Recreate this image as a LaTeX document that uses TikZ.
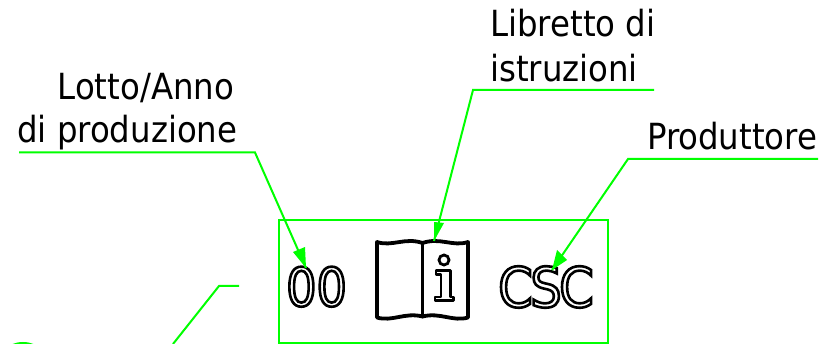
\documentclass[tikz,border=0pt]{standalone}
\usepackage{fontspec}
\setmainfont{DejaVu Sans Condensed}
\definecolor{leader}{RGB}{0,255,0}
\newcommand{\outlinetext}[1]{\special{pdf:code 1 Tr 2.6 w}#1\special{pdf:code 0 Tr 0 w}}
\tikzset{
  leaderline/.style={draw=leader,line width=2pt,line join=miter},
  label/.style={inner sep=0pt,font=\fontsize{36}{40}\selectfont,text=black,anchor=base west},
  bigmark/.style={inner sep=0pt,font=\fontsize{53}{54}\selectfont,anchor=base west},
  cscmark/.style={inner sep=0pt,font=\fontsize{55}{56}\selectfont,anchor=base west},
  bookline/.style={draw=black,line width=3.8pt,line join=round,line cap=round},
  thinline/.style={draw=black,line width=2.8pt,line join=round},
}
\begin{document}
\begin{tikzpicture}[x=1pt,y=-1pt]
\useasboundingbox (0,0) rectangle (821,344);
\clip (0,0) rectangle (821,344);
% frame
\node[draw=leader,line width=2pt,minimum width=329pt,minimum height=123pt,inner sep=0pt,anchor=north west] (frame) at (278,219) {};
% labels
\node[label] (lotto) at (57.5,99.5) {Lotto/Anno};
\node[label] (dipro) at (17,143) {di produzione};
\node[label] (libretto) at (490,37) {Libretto di};
\node[label] (istru) at (490,81.5) {istruzioni};
\node[label] (produttore) at (647,149.5) {Produttore};
% marks
\node[bigmark] (zeros) at (286,306) {\outlinetext{00}};
\node[cscmark] (csc) at (498,307) {\outlinetext{C\kern-2.5ptS\kern-2.5ptC}};
% book
\coordinate (bookL) at (377,242);
\coordinate (bookM) at (422.5,243);
\coordinate (bookR) at (468,242);
\coordinate (bookLb) at (377,317.5);
\coordinate (bookMb) at (422.5,316.5);
\coordinate (bookRb) at (468,317.5);
\path[bookline] (bookL) .. controls (392,247) and (405,237) .. (bookM)
   .. controls (440,237) and (453,247) .. (bookR) -- (bookRb)
   .. controls (453,322) and (440,312) .. (bookMb)
   .. controls (405,312) and (392,322) .. (bookLb) -- cycle;
\draw[bookline] (bookM) -- (bookMb);
% letter i
\node[draw=black,line width=2.8pt,circle,minimum size=10pt,inner sep=0pt] (idot) at (444,260) {};
\draw[thinline] (436,270.5) -- (450.5,270.5) -- (450.5,297) -- (453.5,297) -- (453.5,300.5) -- (435,300.5) -- (435,297) -- (441,297) -- (441,274.5) -- (436,274.5) -- cycle;
% anchors for leaders
\coordinate (lottoA) at (19,152.5);
\coordinate (lottoB) at (255,152.5);
\coordinate (lottoT) at (306,268);
\coordinate (librA) at (654,90);
\coordinate (librB) at (473,90);
\coordinate (librT) at (434,241);
\coordinate (prodA) at (818,159);
\coordinate (prodB) at (628,159);
\coordinate (prodT) at (552,270);
\coordinate (lowA) at (239,286);
\coordinate (lowB) at (219,286);
\coordinate (lowC) at (173,344);
\draw[leaderline] (lottoA) -- (lottoB) -- (lottoT);
\draw[leaderline] (librA) -- (librB) -- (librT);
\draw[leaderline] (prodA) -- (prodB) -- (prodT);
\draw[leaderline] (lowA) -- (lowB) -- (lowC);
% arrow heads
\fill[leader] (lottoT) -- (293,252) -- (305,247) -- cycle;
\fill[leader] (librT) -- (434,222) -- (444,223) -- cycle;
\fill[leader] (prodT) -- (557,250) -- (567,260) -- cycle;
% circle partly visible
\node[draw=leader,line width=2pt,circle,minimum size=56pt,inner sep=0pt] (balloon) at (23,371) {};
\end{tikzpicture}
\end{document}
